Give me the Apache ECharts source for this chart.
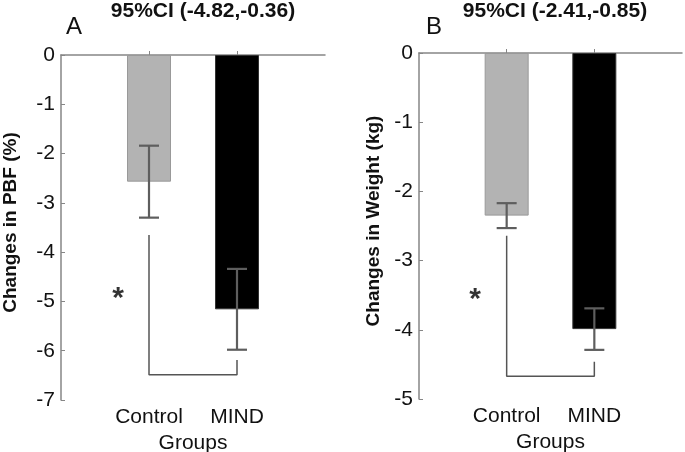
<!DOCTYPE html>
<html><head><meta charset="utf-8">
<script src="https://cdn.jsdelivr.net/npm/echarts@6/dist/echarts.min.js"></script>
<style>html,body{margin:0;padding:0;background:#fff}#c{width:685px;height:452px}</style>
</head><body><div id="c"></div>
<script>
// ---- data ----
const groups = ['Control', 'MIND'];
const groupPos = [1, 2];
const pbfMean = [-2.57, -5.16];
const pbfErr = [0.73, 0.82];
const weightMean = [-2.35, -3.99];
const weightErr = [0.18, 0.30];
const ciTextA = '95%CI (-4.82,-0.36)';
const ciTextB = '95%CI (-2.41,-0.85)';
const yLabelA = 'Changes in PBF (%)';
const yLabelB = 'Changes in Weight (kg)';
const xLabel = 'Groups';
// bracket: [control top, bottom level, MIND top]
const bracketA = [-3.65, -6.49, -6.19];
const bracketB = [-2.64, -4.67, -4.46];
const starA = [0.65, -4.8];
const starB = [0.64, -3.46];
const yRangeA = [-7, 0];
const yRangeB = [-5, 0];

const FONT = 'Liberation Sans, Arial, sans-serif';
const AXIS_COLOR = '#868686';
const barColors = ['#b3b3b3', '#000000'];
const barBorders = ['#999999', '#333333'];

const chart = echarts.init(document.getElementById('c'));

function xAxisCfg(gi) {
  return {
    type: 'value', gridIndex: gi, min: 0, max: 3,
    name: xLabel, nameLocation: 'middle', nameGap: 30,
    nameTextStyle: {fontFamily: FONT, fontSize: 21, color: '#111'},
    axisLine: {show: true, lineStyle: {color: AXIS_COLOR, width: 1.5}},
    axisTick: {show: true, inside: true, length: 4, customValues: groupPos, lineStyle: {color: AXIS_COLOR}},
    axisLabel: {customValues: groupPos, margin: 7, fontFamily: FONT, fontSize: 21, color: '#111',
      formatter: v => groups[groupPos.indexOf(v)] || ''},
    splitLine: {show: false}
  };
}
function yAxisCfg(gi, range, name, gap) {
  return {
    type: 'value', gridIndex: gi, min: range[0], max: range[1], interval: 1,
    name: name, nameLocation: 'middle', nameGap: gap, nameRotate: 90,
    nameTextStyle: {fontFamily: FONT, fontSize: 19, fontWeight: 'bold', color: '#111', padding: [0, 0, 0, 10]},
    axisLine: {show: true, onZero: false, lineStyle: {color: AXIS_COLOR, width: 1.5}},
    axisTick: {show: true, inside: true, length: 4, lineStyle: {color: AXIS_COLOR}},
    axisLabel: {margin: 6, fontFamily: FONT, fontSize: 21, color: '#111'},
    splitLine: {show: false}
  };
}
function barSeries(gi, means) {
  return {
    type: 'bar', xAxisIndex: gi, yAxisIndex: gi, barWidth: 44, z: 1,
    data: means.map((m, i) => ({value: [groupPos[i], m],
      itemStyle: {color: barColors[i], borderColor: barBorders[i], borderWidth: 1}})),
    silent: true, animation: false
  };
}
function errSeries(gi, means, errs) {
  return {
    type: 'custom', xAxisIndex: gi, yAxisIndex: gi, animation: false, silent: true, z: 5,
    data: means.map((m, i) => [groupPos[i], m - errs[i], m + errs[i]]),
    renderItem: (params, api) => {
      const x = api.value(0);
      const lo = api.coord([x, api.value(1)]);
      const hi = api.coord([x, api.value(2)]);
      const hw = 10;
      const st = {stroke: '#5e5e5e', lineWidth: 2.2, fill: null};
      return {type: 'group', children: [
        {type: 'line', shape: {x1: lo[0], y1: lo[1], x2: hi[0], y2: hi[1]}, style: st},
        {type: 'line', shape: {x1: lo[0] - hw, y1: lo[1], x2: lo[0] + hw, y2: lo[1]}, style: st},
        {type: 'line', shape: {x1: hi[0] - hw, y1: hi[1], x2: hi[0] + hw, y2: hi[1]}, style: st}
      ]};
    }
  };
}
function bracketSeries(gi, b) {
  return {
    type: 'line', xAxisIndex: gi, yAxisIndex: gi, symbol: 'none', animation: false, silent: true, z: 4,
    lineStyle: {color: '#555', width: 1.5},
    data: [[groupPos[0], b[0]], [groupPos[0], b[1]], [groupPos[1], b[1]], [groupPos[1], b[2]]]
  };
}
function starSeries(gi, s) {
  return {
    type: 'scatter', xAxisIndex: gi, yAxisIndex: gi, symbolSize: 1, animation: false, silent: true, z: 6,
    itemStyle: {color: 'rgba(0,0,0,0)'},
    label: {show: true, position: 'inside', formatter: '*', fontFamily: FONT, fontSize: 30, fontWeight: 'bold', color: '#000', offset: [0, 7]},
    data: [s]
  };
}

const titleStyle = {fontFamily: FONT, fontSize: 21, fontWeight: 'bold', color: '#111'};
const letterStyle = {fontFamily: FONT, fontSize: 24, fontWeight: 'normal', color: '#111'};
chart.setOption({
  animation: false,
  title: [
    {text: ciTextA, left: 203, top: 1, padding: 0, textAlign: 'center', textStyle: titleStyle},
    {text: 'A', left: 74, top: 15, padding: 0, textAlign: 'center', textStyle: letterStyle},
    {text: ciTextB, left: 555, top: 1, padding: 0, textAlign: 'center', textStyle: titleStyle},
    {text: 'B', left: 434, top: 15, padding: 0, textAlign: 'center', textStyle: letterStyle}
  ],
  grid: [
    {left: 61, top: 55, width: 264, height: 345, containLabel: false, outerBoundsMode: 'none'},
    {left: 419, top: 53, width: 263, height: 346, containLabel: false, outerBoundsMode: 'none'}
  ],
  xAxis: [xAxisCfg(0), xAxisCfg(1)],
  yAxis: [yAxisCfg(0, yRangeA, yLabelA, 41), yAxisCfg(1, yRangeB, yLabelB, 36)],
  series: [
    barSeries(0, pbfMean), errSeries(0, pbfMean, pbfErr), bracketSeries(0, bracketA), starSeries(0, starA),
    barSeries(1, weightMean), errSeries(1, weightMean, weightErr), bracketSeries(1, bracketB), starSeries(1, starB)
  ]
});
</script></body></html>
